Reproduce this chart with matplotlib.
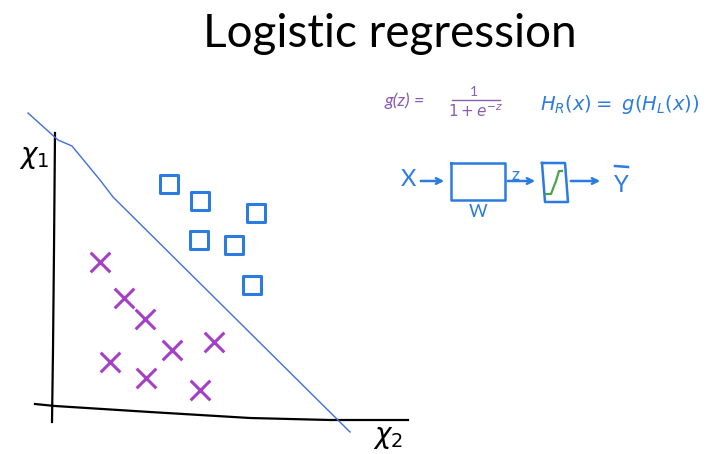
import matplotlib.pyplot as plt
import matplotlib as mpl

mpl.rcParams['font.family'] = ['Lato', 'DejaVu Sans']

cross_x = [100, 124, 145, 110, 146, 172, 214, 200]
cross_y = [262, 298, 319, 362, 378, 350, 342, 390]

# class 1 points (blue squares)
square_x = [169, 200, 199, 234, 256, 252]
square_y = [184, 201, 240, 245, 213, 285]

# decision boundary (hand drawn, roughly straight)
boundary_x = [28, 58, 72, 100, 113, 350]
boundary_y = [113, 140, 146, 180, 197, 432]

purple = '#a63fc8'
formula_purple = '#8a5cb0'
blue = '#2b7be0'
line_blue = '#3f6fd8'

fig = plt.figure(figsize=(7.16, 4.54), dpi=100)
ax = fig.add_axes([0, 0, 1, 1])
ax.set_xlim(0, 716)
ax.set_ylim(454, 0)
ax.axis('off')

# title
ax.text(390, 34, 'Logistic regression', ha='center', va='center', fontsize=33, color='black')

# axes of the sketch
ax.plot([55, 54, 53, 52], [133, 250, 350, 422], color='black', lw=1.6)
ax.plot([35, 55, 150, 250, 330, 408], [404, 406, 412, 418, 420, 420], color='black', lw=1.6)
ax.text(34, 158, r'$\chi_1$', fontsize=20, ha='center', va='center')
ax.text(388, 438, r'$\chi_2$', fontsize=20, ha='center', va='center')

# boundary line
ax.plot(boundary_x, boundary_y, color=line_blue, lw=1.0)

# data points
ax.scatter(cross_x, cross_y, marker='x', s=200, color=purple, linewidths=2.2)
ax.scatter(square_x, square_y, marker='s', s=150, facecolors='none', edgecolors=blue, linewidths=2.2)

# sigmoid formula
ax.text(385, 101, 'g(z) =', fontsize=13, color=formula_purple, ha='left', va='center', style='italic')
ax.plot([452, 500], [100, 100], color=formula_purple, lw=1.0)
ax.text(474, 92, '1', fontsize=10, color=formula_purple, ha='center', va='center')
ax.text(476, 112, r'$1+e^{-z}$', fontsize=11, color=formula_purple, ha='center', va='center')
ax.text(540, 104, r'$H_R(x)=\ g(H_L(x))$', fontsize=14, color=blue, ha='left', va='center')

# block diagram
ax.text(408, 180, 'X', fontsize=17, color=blue, ha='center', va='center')
ax.annotate('', xy=(447, 181), xytext=(418, 181),
            arrowprops=dict(arrowstyle='->', color=blue, lw=1.8))
ax.plot([451, 505, 505, 451, 451], [163, 163, 200, 200, 163], color=blue, lw=1.8)
ax.text(478, 212, 'W', fontsize=13, color=blue, ha='center', va='center')
ax.text(516, 175, 'z', fontsize=13, color=blue, ha='center', va='center')
ax.annotate('', xy=(538, 181), xytext=(505, 181),
            arrowprops=dict(arrowstyle='->', color=blue, lw=1.8))
ax.plot([542, 565, 568, 545, 542], [163, 163, 202, 202, 163], color=blue, lw=1.8)
ax.plot([546, 551, 556, 559, 562], [194, 194, 181, 171, 171], color='#4aa34a', lw=1.6)
ax.annotate('', xy=(603, 181), xytext=(568, 181),
            arrowprops=dict(arrowstyle='->', color=blue, lw=1.8))
ax.text(621, 186, 'Y', fontsize=17, color=blue, ha='center', va='center')
ax.plot([615, 628], [166, 167], color=blue, lw=1.8)

fig.savefig('out.png', dpi=100, facecolor='white')
